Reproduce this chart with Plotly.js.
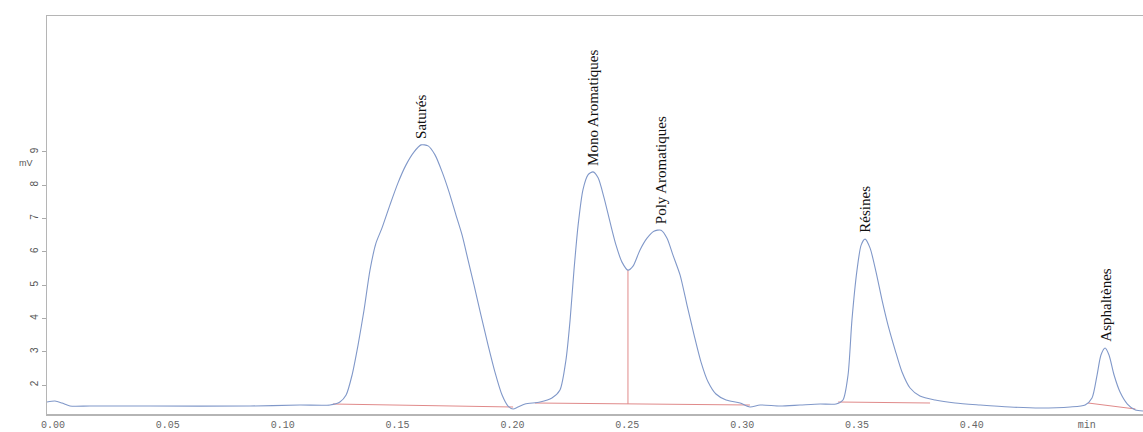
<!DOCTYPE html>
<html>
<head>
<meta charset="utf-8">
<script src="https://cdn.plot.ly/plotly-3.0.1.min.js"></script>
<style>
  html, body { margin: 0; padding: 0; background: #ffffff; }
  #chart { width: 1143px; height: 432px; }
</style>
</head>
<body>
<div id="chart"></div>
<script>
// Retention time (min) and detector signal (mV)
const time = [-0.0026, 0.0009, 0.0039, 0.0074, 0.0161, 0.0422, 0.0858, 0.1075, 0.1206, 0.1249,
  0.1276, 0.1302, 0.1328, 0.1354, 0.1380, 0.1406, 0.1432, 0.1467, 0.1502, 0.1537,
  0.1572, 0.1602, 0.1633, 0.1663, 0.1694, 0.1724, 0.1754, 0.1781, 0.1807, 0.1833,
  0.1863, 0.1894, 0.1924, 0.1955, 0.1981, 0.2003, 0.2024, 0.2055, 0.2120, 0.2172,
  0.2207, 0.2233, 0.2251, 0.2268, 0.2286, 0.2307, 0.2329, 0.2351, 0.2373, 0.2399,
  0.2425, 0.2451, 0.2477, 0.2503, 0.2525, 0.2555, 0.2586, 0.2616, 0.2647, 0.2673,
  0.2699, 0.2730, 0.2760, 0.2791, 0.2821, 0.2852, 0.2886, 0.2930, 0.2991, 0.3034,
  0.3078, 0.3165, 0.3252, 0.3339, 0.3409, 0.3439, 0.3461, 0.3478, 0.3500, 0.3518,
  0.3535, 0.3557, 0.3583, 0.3609, 0.3635, 0.3666, 0.3696, 0.3731, 0.3774, 0.3840,
  0.3927, 0.4036, 0.4166, 0.4297, 0.4428, 0.4493, 0.4523, 0.4545, 0.4562, 0.4580,
  0.4597, 0.4619, 0.4645, 0.4677, 0.4712, 0.4745];

const signal = [1.49, 1.52, 1.46, 1.37, 1.37, 1.37, 1.37, 1.40, 1.40, 1.49,
  1.70, 2.30, 3.20, 4.25, 5.45, 6.26, 6.71, 7.41, 8.07, 8.61,
  9.00, 9.21, 9.18, 8.91, 8.40, 7.80, 7.11, 6.50, 5.75, 5.00,
  4.10, 3.20, 2.39, 1.70, 1.37, 1.28, 1.34, 1.43, 1.49, 1.61,
  1.85, 2.75, 3.95, 5.45, 6.80, 7.86, 8.31, 8.40, 8.22, 7.62,
  6.89, 6.20, 5.69, 5.45, 5.57, 6.05, 6.41, 6.62, 6.65, 6.41,
  5.90, 5.30, 4.40, 3.50, 2.69, 2.09, 1.73, 1.55, 1.46, 1.34,
  1.40, 1.37, 1.40, 1.43, 1.43, 1.55, 2.30, 3.95, 5.45, 6.20,
  6.38, 6.11, 5.39, 4.55, 3.80, 3.05, 2.39, 1.91, 1.67, 1.55,
  1.46, 1.40, 1.34, 1.31, 1.34, 1.40, 1.61, 2.30, 2.90, 3.11,
  2.90, 2.30, 1.79, 1.43, 1.25, 1.22];

// Identified fractions: name, apex time, apex signal
const peakNames = ["Saturés", "Mono Aromatiques", "Poly Aromatiques", "Résines", "Asphaltènes"];
const peakTimes = [0.1602, 0.2351, 0.2647, 0.3535, 0.4580];
const peakHeights = [9.21, 8.40, 6.65, 6.38, 3.11];

// Integration baselines: start/end time and signal
const baseStartT = [0.1219, 0.2098, 0.3418, 0.4506];
const baseStartV = [1.43, 1.46, 1.49, 1.46];
const baseEndT = [0.2003, 0.3034, 0.3818, 0.4712];
const baseEndV = [1.34, 1.40, 1.46, 1.28];

// Perpendicular drop between the two aromatic fractions
const dropTime = 0.2503;
const dropTop = 5.45;
const dropBottom = 1.43;

// Axis ticks
const xTickVals = [0, 0.05, 0.10, 0.15, 0.20, 0.25, 0.30, 0.35, 0.40, 0.45];
const xTickText = ["0.00", "0.05", "0.10", "0.15", "0.20", "0.25", "0.30", "0.35", "0.40", "min"];
const yTickVals = [2, 3, 4, 5, 6, 7, 8, 9];

const traceColor = "#8098c9";
const baseColor = "#e08a8a";

const traces = [];
for (let i = 0; i < baseStartT.length; i++) {
  traces.push({
    type: "scatter", mode: "lines",
    x: [baseStartT[i], baseEndT[i]],
    y: [baseStartV[i], baseEndV[i]],
    line: { color: baseColor, width: 1 },
    hoverinfo: "skip", showlegend: false
  });
}
traces.push({
  type: "scatter", mode: "lines",
  x: [dropTime, dropTime], y: [dropBottom, dropTop],
  line: { color: baseColor, width: 1 },
  hoverinfo: "skip", showlegend: false
});
traces.push({
  type: "scatter", mode: "lines",
  x: time, y: signal,
  line: { color: traceColor, width: 1.1, shape: "spline", smoothing: 0.7 },
  showlegend: false
});

const annotations = peakNames.map((name, i) => ({
  x: peakTimes[i], y: peakHeights[i],
  xref: "x", yref: "y",
  text: name, textangle: -90,
  showarrow: false,
  xanchor: "center", yanchor: "bottom", yshift: 4,
  font: { family: "Liberation Serif, serif", size: 15, color: "#111111" }
}));
annotations.push({
  xref: "paper", yref: "y", x: 0, y: 8.67,
  xanchor: "right", xshift: -12,
  text: "mV", showarrow: false,
  font: { family: "Liberation Sans, sans-serif", size: 9, color: "#555555" }
});

const layout = {
  width: 1143, height: 432,
  margin: { l: 47, r: 0, t: 16, b: 18, pad: 0 },
  paper_bgcolor: "#ffffff", plot_bgcolor: "#ffffff",
  showlegend: false,
  xaxis: {
    range: [-0.0026, 0.4745],
    tickvals: xTickVals, ticktext: xTickText,
    showgrid: false, zeroline: false,
    showline: true, linecolor: "#b5b5b5", linewidth: 1.5, mirror: true,
    ticks: "", tickfont: { family: "Liberation Mono, monospace", size: 10, color: "#666666" }
  },
  yaxis: {
    range: [1.13, 13.08],
    tickvals: yTickVals, tickangle: -90,
    showgrid: false, zeroline: false,
    showline: true, linecolor: "#b5b5b5", linewidth: 1.5,
    ticks: "outside", ticklen: 4, tickcolor: "#aaaaaa",
    tickfont: { family: "Liberation Sans, sans-serif", size: 10, color: "#555555" }
  },
  annotations: annotations
};

Plotly.newPlot("chart", traces, layout, { staticPlot: true, displayModeBar: false });
</script>
</body>
</html>
